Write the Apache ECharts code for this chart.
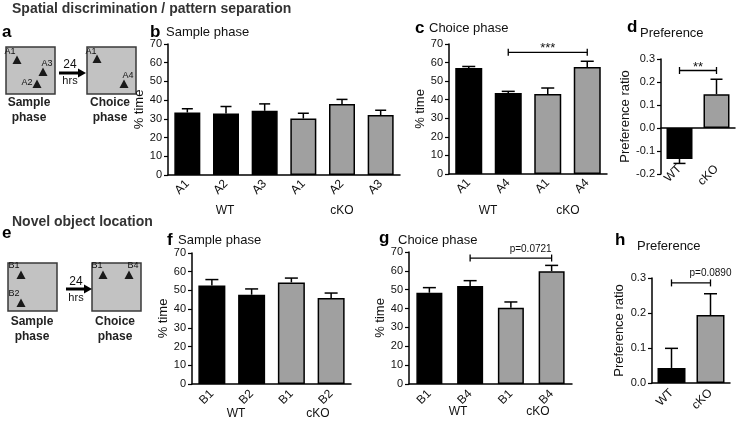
<!DOCTYPE html>
<html><head><meta charset="utf-8">
<script src="https://cdn.jsdelivr.net/npm/echarts@6/dist/echarts.min.js"></script>
<style>html,body{margin:0;padding:0;background:#fff}#c{width:737px;height:421px}</style>
</head><body><div id="c"></div>
<script>
// ---------- data ----------
const bCats = ['A1','A2','A3','A1','A2','A3'];
const bGroups = ['WT','WT','WT','cKO','cKO','cKO'];
const bMean = [33.4, 32.9, 34.3, 30.2, 38.0, 32.0];
const bSem  = [2.0, 3.7, 3.7, 2.8, 2.4, 2.6];

const cCats = ['A1','A4','A1','A4'];
const cGroups = ['WT','WT','cKO','cKO'];
const cMean = [57.1, 43.6, 43.1, 57.6];
const cSem  = [0.8, 0.9, 3.2, 3.1];

const dCats = ['WT','cKO'];
const dMean = [-0.135, 0.147];
const dSem  = [0.019, 0.065];

const fCats = ['B1','B2','B1','B2'];
const fGroups = ['WT','WT','cKO','cKO'];
const fMean = [52.7, 47.7, 54.3, 46.0];
const fSem  = [3.1, 3.1, 2.3, 2.6];

const gCats = ['B1','B4','B1','B4'];
const gGroups = ['WT','WT','cKO','cKO'];
const gMean = [48.4, 52.0, 40.5, 59.8];
const gSem  = [2.7, 2.8, 3.0, 3.1];

const hCats = ['WT','cKO'];
const hMean = [0.043, 0.194];
const hSem  = [0.056, 0.061];

const percentTicks = {min: 0, max: 70, interval: 10};
const ratioTicksD  = {min: -0.2, max: 0.3, interval: 0.1};
const ratioTicksH  = {min: 0, max: 0.3, interval: 0.1};

// significance brackets: [from index, to index, level, text]
const cSig = [1, 3, 65.5, '***'];
const dSig = [0, 1, 0.25, '**'];
const gSig = [1, 3, 66.8, 'p=0.0721'];
const hSig = [0, 1, 0.286, 'p=0.0890'];

// ---------- styling / layout ----------
const FONT = '"Liberation Sans", Arial, Helvetica, sans-serif';
const INK = '#111';
const GRAY = '#a0a0a0';
const colorOf = g => g === 'WT' ? '#000' : GRAY;

const panels = [
  {cats:bCats, groups:bGroups, mean:bMean, sem:bSem, y:percentTicks, yName:'% time',
   grid:{left:168, top:44, width:232, height:131}, nameGap:20, barW:26, cap:11, xMargin:7, ratio:false},
  {cats:cCats, groups:cGroups, mean:cMean, sem:cSem, y:percentTicks, yName:'% time',
   grid:{left:449, top:44, width:158, height:130}, nameGap:20, barW:27, cap:13, xMargin:7, ratio:false,
   sig:cSig, sigAlign:'mid', sigFont:'13px', sigDy:3, sigVA:'bottom'},
  {cats:dCats, groups:dCats, mean:dMean, sem:dSem, y:ratioTicksD, yName:'Preference ratio',
   grid:{left:661, top:59, width:74, height:115}, nameGap:20, barW:26, cap:12, xMargin:-7, ratio:true,
   sig:dSig, sigAlign:'mid', sigFont:'13px', sigDy:3, sigVA:'bottom'},
  {cats:fCats, groups:fGroups, mean:fMean, sem:fSem, y:percentTicks, yName:'% time',
   grid:{left:192, top:253, width:159, height:131}, nameGap:20, barW:27, cap:13, xMargin:8, ratio:false},
  {cats:gCats, groups:gGroups, mean:gMean, sem:gSem, y:percentTicks, yName:'% time',
   grid:{left:409, top:252, width:163, height:132}, nameGap:20, barW:26, cap:13, xMargin:8, ratio:false,
   sig:gSig, sigAlign:'right', sigFont:'10px', sigDy:-4, sigVA:'bottom'},
  {cats:hCats, groups:hCats, mean:hMean, sem:hSem, y:ratioTicksH, yName:'Preference ratio',
   grid:{left:652, top:278, width:78, height:105}, nameGap:26, barW:28, cap:13, xMargin:8, ratio:true,
   sig:hSig, sigAlign:'end', sigFont:'10px', sigDy:-5, sigVA:'bottom'}
];

const grids = [], xAxes = [], yAxes = [], series = [];
panels.forEach((p, i) => {
  grids.push(Object.assign({containLabel:false}, p.grid));
  xAxes.push({
    type:'category', gridIndex:i, data:p.cats,
    axisLine:{onZero:true, lineStyle:{color:'#000', width:1.5}},
    axisTick:{alignWithLabel:true, length:4, lineStyle:{color:'#000', width:1.2}},
    axisLabel:{rotate:45, margin:p.xMargin, fontSize:12, color:INK, fontFamily:FONT},
    splitLine:{show:false}
  });
  yAxes.push({
    type:'value', gridIndex:i, min:p.y.min, max:p.y.max, interval:p.y.interval,
    name:p.yName, nameLocation:'middle', nameGap:p.nameGap, nameRotate:90,
    nameTextStyle:{fontSize:13, color:INK, fontFamily:FONT},
    axisLine:{show:true, lineStyle:{color:'#000', width:1.5}},
    axisTick:{show:true, length:4, lineStyle:{color:'#000', width:1.2}},
    axisLabel:{fontSize:11, color:INK, fontFamily:FONT, margin:6,
      formatter: v => p.ratio ? Number(v).toFixed(1) : String(Math.round(v))},
    splitLine:{show:false}
  });
  series.push({
    type:'bar', xAxisIndex:i, yAxisIndex:i, barWidth:p.barW, z:2,
    data:p.mean.map((m, k) => ({value:m, itemStyle:{color:colorOf(p.groups[k])}})),
    itemStyle:{borderColor:'#000', borderWidth:1.5}
  });
  const cap = p.cap;
  series.push({
    type:'custom', xAxisIndex:i, yAxisIndex:i, z:3, clip:false, silent:true,
    encode:{x:0, y:1},
    data:p.mean.map((m, k) => [k, m, p.sem[k]]),
    renderItem(params, api) {
      const k = api.value(0), m = api.value(1), s = api.value(2);
      const end = m >= 0 ? m + s : m - s;
      const p0 = api.coord([k, m]), p1 = api.coord([k, end]);
      const st = {stroke:'#000', lineWidth:1.5};
      return {type:'group', children:[
        {type:'line', shape:{x1:p0[0], y1:p0[1], x2:p1[0], y2:p1[1]}, style:st},
        {type:'line', shape:{x1:p1[0]-cap/2, y1:p1[1], x2:p1[0]+cap/2, y2:p1[1]}, style:st}
      ]};
    }
  });
  if (p.sig) {
    const sg = p.sig;
    series.push({
      type:'custom', xAxisIndex:i, yAxisIndex:i, z:5, clip:false, silent:true,
      encode:{x:0, y:2},
      data:[[sg[0], sg[1], sg[2]]],
      renderItem(params, api) {
        const a = api.coord([api.value(0), api.value(2)]);
        const b = api.coord([api.value(1), api.value(2)]);
        const st = {stroke:'#000', lineWidth:1.3};
        let tx, ta;
        if (p.sigAlign === 'mid') { tx = (a[0]+b[0])/2; ta = 'center'; }
        else if (p.sigAlign === 'right') { tx = b[0]; ta = 'right'; }
        else { tx = b[0]; ta = 'center'; }
        return {type:'group', children:[
          {type:'line', shape:{x1:a[0], y1:a[1], x2:b[0], y2:b[1]}, style:st},
          {type:'line', shape:{x1:a[0], y1:a[1]-3.5, x2:a[0], y2:a[1]+3.5}, style:st},
          {type:'line', shape:{x1:b[0], y1:b[1]-3.5, x2:b[0], y2:b[1]+3.5}, style:st},
          {type:'text', x:tx, y:a[1]+p.sigDy, style:{text:sg[3], font:p.sigFont+' '+FONT, fill:INK, align:ta, verticalAlign:p.sigVA}}
        ]};
      }
    });
  }
});

// ---------- text & schematic graphics ----------
const T = (text, x, y, font, opts) => Object.assign({type:'text', x, y,
  style:Object.assign({text, font:font+' '+FONT, fill:INK, align:'left', verticalAlign:'middle'}, opts||{})});
const tri = (cx, cy) => ({type:'polygon', shape:{points:[[cx-4.5, cy+4],[cx+4.5, cy+4],[cx, cy-4.5]]}, style:{fill:'#1a1a1a'}});
const box = (x, y, w, h) => ({type:'rect', shape:{x, y, width:w, height:h}, style:{fill:'#c2c2c2', stroke:'#3a3a3a', lineWidth:1.5}});
const arrow = (x1, x2, y) => ([
  {type:'line', shape:{x1, y1:y, x2:x2-6, y2:y}, style:{stroke:'#000', lineWidth:3}},
  {type:'polygon', shape:{points:[[x2-8, y-4.5],[x2, y],[x2-8, y+4.5]]}, style:{fill:'#000'}}
]);
const small = '9px';

const graphics = [
  T('Spatial discrimination / pattern separation', 12, 9, 'bold 14px', {fill:'#333'}),
  T('Novel object location', 12, 222, 'bold 14px', {fill:'#333'}),
  T('a', 2, 32, 'bold 17px', {fill:'#000'}),
  T('b', 150, 32, 'bold 17px', {fill:'#000'}),
  T('c', 415, 28, 'bold 17px', {fill:'#000'}),
  T('d', 627, 27, 'bold 17px', {fill:'#000'}),
  T('e', 2, 233, 'bold 17px', {fill:'#000'}),
  T('f', 167, 240, 'bold 17px', {fill:'#000'}),
  T('g', 379, 238, 'bold 17px', {fill:'#000'}),
  T('h', 615, 240, 'bold 17px', {fill:'#000'}),
  T('Sample phase', 166, 32, '13px'),
  T('Choice phase', 429, 28, '13px'),
  T('Preference', 640, 33, '13px'),
  T('Sample phase', 178, 240, '13px'),
  T('Choice phase', 398, 240, '13px'),
  T('Preference', 637, 246, '13px'),
  // group labels
  T('WT', 225, 211, '12px', {align:'center'}),
  T('cKO', 342, 211, '12px', {align:'center'}),
  T('WT', 488, 211, '12px', {align:'center'}),
  T('cKO', 568, 211, '12px', {align:'center'}),
  T('WT', 236, 414, '12px', {align:'center'}),
  T('cKO', 318, 414, '12px', {align:'center'}),
  T('WT', 458, 412, '12px', {align:'center'}),
  T('cKO', 538, 412, '12px', {align:'center'}),
  // schematic a
  box(6, 47, 49, 47), box(87, 47, 49, 47),
  tri(17, 60), tri(43, 72), tri(37, 84), tri(97, 59), tri(124, 84),
  T('A1', 10, 52, small, {align:'center'}), T('A3', 47, 64, small, {align:'center'}),
  T('A2', 27, 83, small, {align:'center'}), T('A1', 91, 52, small, {align:'center'}),
  T('A4', 128, 76, small, {align:'center'}),
  ...arrow(59, 86, 73),
  T('24', 70, 65, '12px', {align:'center'}), T('hrs', 70, 81, '11px', {align:'center'}),
  T('Sample', 29, 103, 'bold 12px', {align:'center', fill:'#222'}),
  T('phase', 29, 118, 'bold 12px', {align:'center', fill:'#222'}),
  T('Choice', 110, 103, 'bold 12px', {align:'center', fill:'#222'}),
  T('phase', 110, 118, 'bold 12px', {align:'center', fill:'#222'}),
  // schematic e
  box(8, 263, 49, 48), box(92, 263, 49, 48),
  tri(21, 275), tri(21, 303), tri(103, 275), tri(129, 275),
  T('B1', 14, 266, small, {align:'center'}), T('B2', 14, 294, small, {align:'center'}),
  T('B1', 97, 266, small, {align:'center'}), T('B4', 133, 266, small, {align:'center'}),
  ...arrow(66, 92, 289),
  T('24', 76, 282, '12px', {align:'center'}), T('hrs', 76, 298, '11px', {align:'center'}),
  T('Sample', 32, 322, 'bold 12px', {align:'center', fill:'#222'}),
  T('phase', 32, 337, 'bold 12px', {align:'center', fill:'#222'}),
  T('Choice', 115, 322, 'bold 12px', {align:'center', fill:'#222'}),
  T('phase', 115, 337, 'bold 12px', {align:'center', fill:'#222'})
];

const chart = echarts.init(document.getElementById('c'), null, {renderer:'canvas'});
chart.setOption({
  animation:false,
  backgroundColor:'#fff',
  textStyle:{fontFamily:FONT},
  grid:grids, xAxis:xAxes, yAxis:yAxes, series:series,
  graphic:{elements:graphics}
});
</script></body></html>
